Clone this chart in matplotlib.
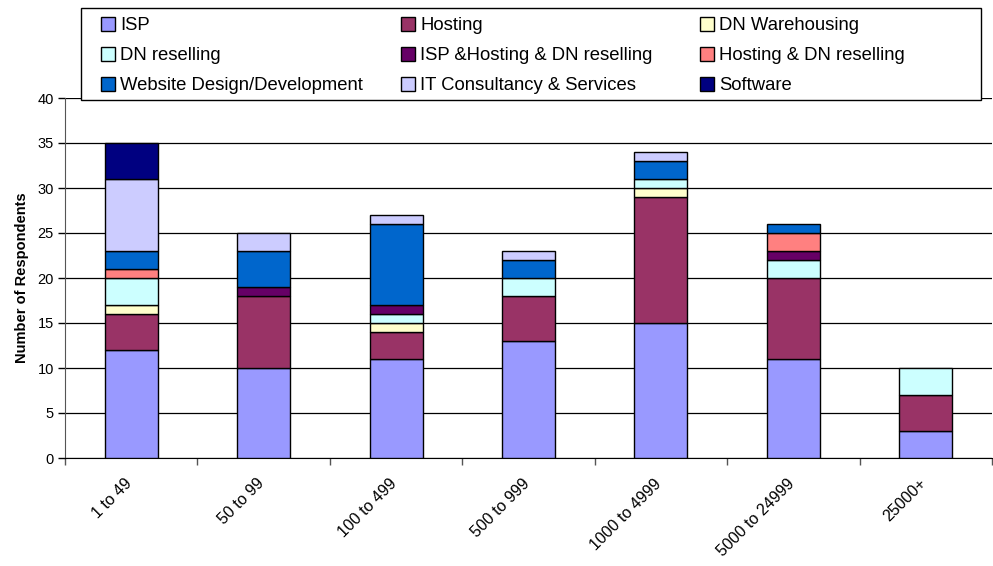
import matplotlib
matplotlib.use("Agg")
import matplotlib.pyplot as plt
from matplotlib.patches import Rectangle
import matplotlib.transforms as mtrans
import numpy as np

plt.rcParams['font.family'] = ['Liberation Sans', 'DejaVu Sans']

categories = ["1 to 49", "50 to 99", "100 to 499", "500 to 999", "1000 to 4999", "5000 to 24999", "25000+"]
series_names = ["ISP", "Hosting", "DN Warehousing", "DN reselling", "ISP &Hosting & DN reselling",
                "Hosting & DN reselling", "Website Design/Development", "IT Consultancy & Services", "Software"]
isp       = [12, 10, 11, 13, 15, 11, 3]
hosting   = [4, 8, 3, 5, 14, 9, 4]
dn_wh     = [1, 0, 1, 0, 1, 0, 0]
dn_res    = [3, 0, 1, 2, 1, 2, 3]
isp_h_dn  = [0, 1, 1, 0, 0, 1, 0]
h_dn      = [1, 0, 0, 0, 0, 2, 0]
web       = [2, 4, 9, 2, 2, 1, 0]
it_cons   = [8, 2, 1, 1, 1, 0, 0]
software  = [4, 0, 0, 0, 0, 0, 0]
series = [isp, hosting, dn_wh, dn_res, isp_h_dn, h_dn, web, it_cons, software]
colors = ["#9999FF", "#993366", "#FFFFCC", "#CCFFFF", "#660066", "#FF8080", "#0066CC", "#CCCCFF", "#000080"]
yticks = [0, 5, 10, 15, 20, 25, 30, 35, 40]

W, H = 993, 566
fig = plt.figure(figsize=(W/100, H/100), dpi=100)
ax = fig.add_axes([65/W, 1-458/H, (992-65)/W, (458-98)/H])

x = np.arange(len(categories))
bottom = np.zeros(len(categories))
handles = []
for name, vals, c in zip(series_names, series, colors):
    v = np.array(vals, dtype=float)
    m = v > 0
    b = ax.bar(x[m], v[m], 0.4, bottom=bottom[m], color=c, edgecolor="black", linewidth=1.0, label=name, zorder=3)
    handles.append(b)
    bottom += v

ax.set_xlim(-0.5, len(categories)-0.5)
ax.set_ylim(0, 40)
ax.set_yticks(yticks)
ax.tick_params(axis='y', labelsize=10.5, direction='out', length=5, width=1, colors='black', pad=3)
ax.yaxis.grid(True, color='black', linewidth=0.9, zorder=0)
ax.set_axisbelow(True)

ax.set_xticks(np.arange(-0.5, len(categories)), minor=False)
ax.set_xticklabels([])
ax.set_xticks(x, minor=True)
ax.set_xticklabels(categories, minor=True, rotation=45, ha='right', rotation_mode='anchor', fontsize=11.5)
ax.tick_params(axis='x', which='major', direction='out', length=5, width=1, color='#555555')
ax.tick_params(axis='x', which='minor', length=0, pad=13)
off = mtrans.ScaledTranslation(-7/100, 0, fig.dpi_scale_trans)
for lbl in ax.get_xticklabels(minor=True):
    lbl.set_transform(lbl.get_transform() + off)

for s in ['top', 'right']:
    ax.spines[s].set_visible(False)
ax.spines['left'].set_color('#555555')
ax.spines['bottom'].set_color('black')

ax.set_ylabel("Number of Respondents", fontsize=10.5, fontweight='bold', labelpad=6)

# legend box
fig.patches.append(Rectangle((81/W, 1-100/H), (981-81)/W, 92/H, transform=fig.transFigure,
                             facecolor='white', edgecolor='black', linewidth=1.0, zorder=5))
col_x = [97, 397, 696]
for ci in range(3):
    idx = [ci, ci+3, ci+6]
    leg = fig.legend([handles[i] for i in idx], [series_names[i] for i in idx], ncol=1,
                     loc='upper left', bbox_to_anchor=(col_x[ci]/W, 1-13/H),
                     fontsize=13.3, frameon=False,
                     handlelength=0.8, handleheight=0.8, handletextpad=0.25, borderaxespad=0,
                     labelspacing=0.68, borderpad=0.2)
    leg.set_zorder(6)

fig.savefig("out.png", dpi=100)
